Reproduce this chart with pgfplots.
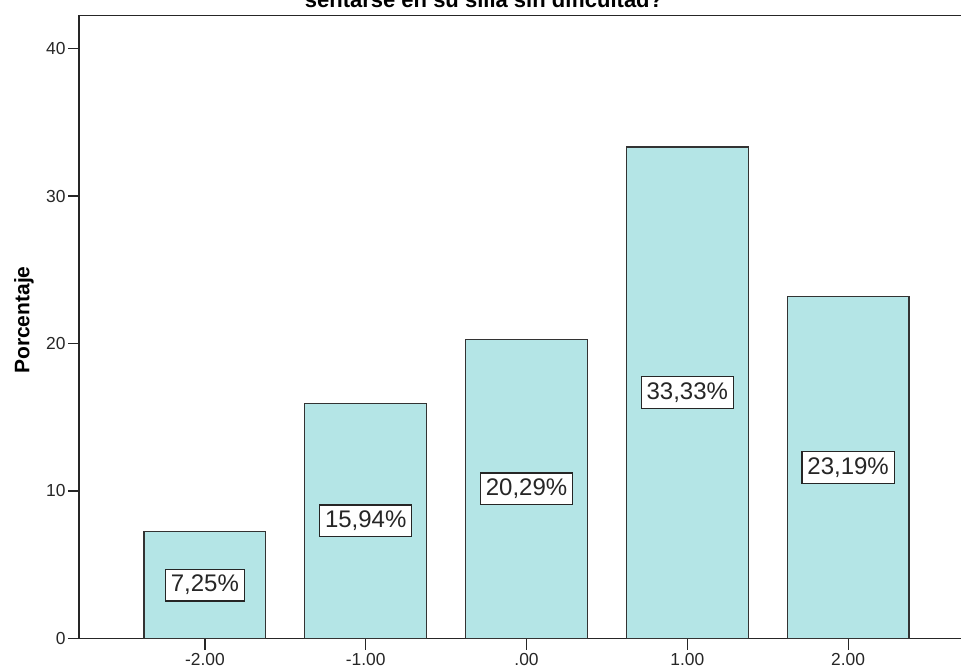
\documentclass[border=0pt]{standalone}
\usepackage{fontspec}
\setmainfont{Liberation Sans}
\usepackage{pgfplots}
\pgfplotsset{compat=1.18}
\definecolor{barfill}{RGB}{180,229,230}

\begin{document}
\begin{tikzpicture}
\useasboundingbox (0,0) rectangle (480.5pt,334pt);
\clip (0,0) rectangle (480.5pt,334pt);
\begin{axis}[
  at={(39.5pt,14.75pt)}, anchor=south west,
  scale only axis, width=448pt, height=311.5pt,
  xmin=-2.783, xmax=2.789, ymin=0, ymax=42.24,
  /pgf/number format/assume math mode=true,
  axis line style={black!85, line width=0.6pt},
  tick align=outside,
  major tick length=5.5pt,
  tick style={black!85, line width=0.6pt},
  xtick pos=lower, ytick pos=left,
  xtick={-2,-1,0,1,2},
  xticklabels={-2.00,-1.00,.00,1.00,2.00},
  ytick={0,10,20,30,40},
  ticklabel style={font=\fontsize{8.7}{10}\selectfont, text=black!85},
  yticklabel style={inner xsep=1pt},
  xticklabel style={inner ysep=1.5pt},
  ylabel={Porcentaje},
  ylabel style={font=\bfseries\fontsize{10.5}{12}\selectfont,
    at={(axis description cs:-0.0615,0.511)}, anchor=center},
]
% bars with their percentage shown in a box at half height
\addplot[ybar, bar width=0.758, fill=barfill, draw=black!80, line width=0.6pt,
  visualization depends on={y/2 \as \halfy},
  nodes near coords={\pgfmathprintnumber[fixed, fixed zerofill, precision=2, use comma]{\pgfplotspointmeta}\%},
  every node near coord/.append style={anchor=center, fill=white, draw=black!85,
    line width=0.6pt, font=\fontsize{12}{14}\selectfont, text=black!85,
    inner xsep=2.7pt, inner ysep=3pt,
    shift={(axis direction cs:0,-\halfy)}},
] coordinates {(-2,7.25) (-1,15.94) (0,20.29) (1,33.33) (2,23.19)};
\end{axis}
\node[font=\bfseries\fontsize{11}{13}\selectfont, anchor=base] at (242pt,330pt)
  {sentarse en su silla sin dificultad?};
\end{tikzpicture}
\end{document}
